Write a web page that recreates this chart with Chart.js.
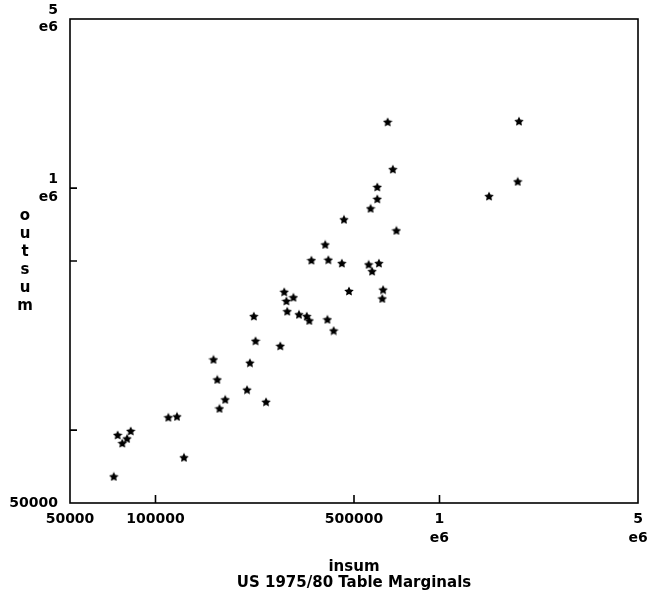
<!DOCTYPE html>
<html>
<head>
<meta charset="utf-8">
<title>US 1975/80 Table Marginals</title>
<script src="https://cdn.jsdelivr.net/npm/chart.js@4.4.1/dist/chart.umd.min.js"></script>
<style>
  html, body { margin: 0; padding: 0; background: #fff; }
</style>
</head>
<body>
<canvas id="resultsCanvas" width="647" height="594"></canvas>
<script>
'use strict';

// insum / outsum pairs (log-log)
var insum = [
  657000, 685000, 604000, 604000, 572000, 705000, 461000, 396000,
  354000, 406000, 453000, 563000, 579000, 612000, 480000, 633000,
  629000, 284000, 289000, 306000, 291000, 320000, 341000, 348000,
  403000, 424000, 222000, 225000, 275000, 215000, 160000, 165000,
  210000, 176000, 168000, 245000, 111000, 119000, 73600, 76400,
  79400, 81800, 126000, 71300, 1905000, 1886000, 1494000
];
var outsum = [
  1879000, 1198000, 1012000, 903000, 825000, 669000, 743000, 585000,
  504000, 506000, 490000, 484000, 454000, 490000, 376000, 381000,
  350000, 373000, 342000, 354000, 310000, 301000, 296000, 284000,
  287000, 258000, 296000, 234000, 223000, 190000, 196000, 162000,
  147000, 134000, 123000, 131000, 113000, 114000, 95600, 88400,
  92400, 99300, 77200, 64400, 1892000, 1066000, 927000
];

// labelled ticks
var xTickValues = [50000, 100000, 500000, 1000000, 5000000];
var xTickLabels = ['50000', '100000', '500000', ['1', 'e6'], ['5', 'e6']];
var yTickValues = [50000, 1000000, 5000000];
var yTickLabels = ['50000', ['1', 'e6'], ['5', 'e6']];

// short tick marks drawn inside the box
var xTickMarks = [100000, 500000, 1000000];
var yTickMarks = [100000, 500000, 1000000];

var xTitleLines = ['insum', 'US 1975/80 Table Marginals'];
var yTitleLetters = ['o', 'u', 't', 's', 'u', 'm'];

var fontFamily = '"DejaVu Sans", "Liberation Sans", sans-serif';

// filled five point star used as the marker
function makeStar(size) {
  var c = document.createElement('canvas');
  c.width = size;
  c.height = size;
  var g = c.getContext('2d');
  var cx = size / 2, cy = size / 2 + 0.5, R = size / 2, r = R * 0.5;
  g.beginPath();
  for (var i = 0; i < 10; i++) {
    var rad = (i % 2 === 0) ? R : r;
    var a = -Math.PI / 2 + i * Math.PI / 5;
    g.lineTo(cx + rad * Math.cos(a), cy + rad * Math.sin(a));
  }
  g.closePath();
  g.fillStyle = '#000';
  g.fill();
  return c;
}

var points = [];
for (var i = 0; i < insum.length; i++) {
  points.push({ x: insum[i], y: outsum[i] });
}

// labels may hang outside the box, don't let them shrink it
function noOverflow(s) {
  s.paddingTop = 0;
  s.paddingBottom = 0;
  s.paddingLeft = 0;
  s.paddingRight = 0;
}

// box, inner tick marks and the stacked y title
var framePlugin = {
  id: 'frame',
  afterDraw: function (chart) {
    var ctx = chart.ctx;
    var a = chart.chartArea;
    var xs = chart.scales.x;
    var ys = chart.scales.y;
    ctx.save();
    ctx.strokeStyle = '#000';
    ctx.lineWidth = 1.6;
    ctx.strokeRect(a.left, a.top, a.right - a.left, a.bottom - a.top);
    ctx.beginPath();
    xTickMarks.forEach(function (v) {
      var px = xs.getPixelForValue(v);
      ctx.moveTo(px, a.bottom);
      ctx.lineTo(px, a.bottom - 8);
    });
    yTickMarks.forEach(function (v) {
      var py = ys.getPixelForValue(v);
      ctx.moveTo(a.left, py);
      ctx.lineTo(a.left + 7, py);
    });
    ctx.stroke();

    ctx.fillStyle = '#000';
    ctx.font = 'bold 15px ' + fontFamily;
    ctx.textAlign = 'center';
    ctx.textBaseline = 'middle';
    var mid = (a.top + a.bottom) / 2;
    yTitleLetters.forEach(function (ch, k) {
      ctx.fillText(ch, 25, mid + (k - (yTitleLetters.length - 1) / 2) * 18);
    });
    ctx.restore();
  }
};

var canvas = document.getElementById('resultsCanvas');
var myScatter = new Chart(canvas, {
  type: 'scatter',
  data: {
    datasets: [{
      data: points,
      pointStyle: makeStar(10),
      backgroundColor: '#000',
      borderColor: '#000'
    }]
  },
  options: {
    responsive: false,
    animation: false,
    devicePixelRatio: 1,
    layout: { padding: { top: 19, right: 9, bottom: 0, left: 0 } },
    plugins: {
      legend: { display: false },
      tooltip: { enabled: false }
    },
    scales: {
      x: {
        type: 'logarithmic',
        min: 50000,
        max: 5000000,
        afterBuildTicks: function (s) {
          s.ticks = xTickValues.map(function (v) { return { value: v }; });
        },
        afterFit: function (s) {
          s.height = 91;
          noOverflow(s);
        },
        grid: { display: false, drawTicks: false },
        border: { display: false },
        ticks: {
          autoSkip: false,
          maxRotation: 0,
          padding: 7,
          color: '#000',
          font: { family: fontFamily, size: 14, weight: 'bold', lineHeight: 1.35 },
          callback: function (v) { return xTickLabels[xTickValues.indexOf(v)]; }
        },
        title: {
          display: true,
          text: xTitleLines,
          color: '#000',
          font: { family: fontFamily, size: 15, weight: 'bold', lineHeight: 1.07 },
          padding: { top: 0, bottom: 3 }
        }
      },
      y: {
        type: 'logarithmic',
        min: 50000,
        max: 5000000,
        afterBuildTicks: function (s) {
          s.ticks = yTickValues.map(function (v) { return { value: v }; });
        },
        afterFit: function (s) {
          s.width = 70;
          noOverflow(s);
        },
        grid: { display: false, drawTicks: false },
        border: { display: false },
        ticks: {
          autoSkip: false,
          padding: 12,
          color: '#000',
          font: { family: fontFamily, size: 14, weight: 'bold', lineHeight: 1.25 },
          callback: function (v) { return yTickLabels[yTickValues.indexOf(v)]; }
        }
      }
    }
  },
  plugins: [framePlugin]
});
</script>
</body>
</html>
